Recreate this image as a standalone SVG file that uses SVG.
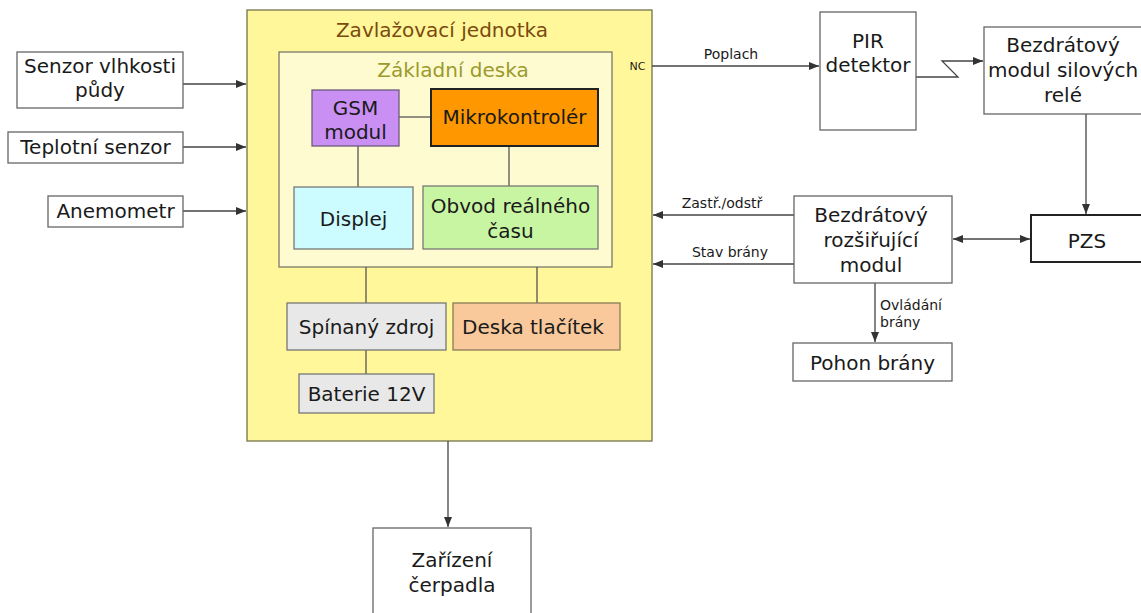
<svg xmlns="http://www.w3.org/2000/svg" width="1141" height="613" viewBox="0 0 1141 613">
<defs>
<marker id="ah" viewBox="0 0 10 8" refX="10" refY="4" markerWidth="10" markerHeight="8" markerUnits="userSpaceOnUse" orient="auto-start-reverse">
<path d="M0,0 L10,4 L0,8 z" fill="#333"/>
</marker>
<style>
text{font-family:"DejaVu Sans","Liberation Sans",sans-serif;fill:#1a1a1a}
.n{font-size:20px;text-anchor:middle}
.s{font-size:14px;text-anchor:middle}
.box{fill:#fff;stroke:#666;stroke-width:1.3}
.ln{stroke:#555;stroke-width:1.3;fill:none}
.ar{stroke:#444;stroke-width:1.3;fill:none;marker-end:url(#ah)}
</style>
</defs>
<rect width="1141" height="613" fill="#fff"/>

<g id="unit">
<rect x="247" y="10" width="405" height="431" fill="#fff799" stroke="#7d7d55" stroke-width="1.4"/>
<text x="442" y="37" class="n" style="fill:#7a4a10">Zavlažovací jednotka</text>
</g>
<g id="board">
<rect x="279" y="52" width="333" height="215" fill="#fffbd0" stroke="#7a7a6a" stroke-width="1.3"/>
<text x="453" y="77" class="n" style="fill:#9a9a2e">Základní deska</text>
</g>

<g id="connectors">
<line class="ln" x1="399" y1="117" x2="431" y2="117"/>
<line class="ln" x1="358" y1="146" x2="358" y2="187"/>
<line class="ln" x1="509" y1="146" x2="509" y2="186"/>
<line class="ln" x1="366" y1="267" x2="366" y2="303"/>
<line class="ln" x1="537" y1="267" x2="537" y2="303"/>
<line class="ln" x1="366" y1="350" x2="366" y2="374"/>
<line class="ar" x1="183" y1="84" x2="246" y2="84"/>
<line class="ar" x1="183" y1="147" x2="246" y2="147"/>
<line class="ar" x1="183" y1="211" x2="246" y2="211"/>
<line class="ar" x1="652" y1="66" x2="819" y2="66"/>
<polyline class="ar" points="916,77 958,77 942,61 983,61"/>
<line class="ar" x1="1086" y1="114" x2="1086" y2="214"/>
<line class="ar" x1="794" y1="215" x2="653" y2="215"/>
<line class="ar" x1="794" y1="264" x2="653" y2="264"/>
<line class="ar" x1="953" y1="239" x2="1030" y2="239" style="marker-start:url(#ah)"/>
<line class="ar" x1="875" y1="283" x2="875" y2="342"/>
<line class="ar" x1="448" y1="441" x2="448" y2="527"/>
<text x="637.5" y="70" style="font-size:11px;text-anchor:middle">NC</text>
<text x="731" y="59" class="s">Poplach</text>
<text x="722" y="208" class="s">Zastř./odstř</text>
<text x="730" y="257" class="s">Stav brány</text>
<text x="880" y="310" style="font-size:14px">Ovládání</text>
<text x="880" y="327" style="font-size:14px">brány</text>
</g>

<g id="soil"><rect class="box" x="17" y="52" width="166" height="56"/>
<text x="100" y="73" class="n">Senzor vlhkosti</text><text x="100" y="97" class="n">půdy</text></g>
<g id="temp"><rect class="box" x="8" y="132" width="175" height="31"/>
<text x="95.5" y="154" class="n">Teplotní senzor</text></g>
<g id="anemo"><rect class="box" x="48" y="196" width="135" height="31"/>
<text x="115.5" y="218" class="n">Anemometr</text></g>

<g id="gsm"><rect x="312" y="90" width="87" height="56" fill="#c98ff3" stroke="#6a5a7a" stroke-width="1.3"/>
<text x="355.5" y="115" class="n">GSM</text><text x="355.5" y="139" class="n">modul</text></g>
<g id="mcu"><rect x="431" y="89" width="167" height="57" fill="#ff9800" stroke="#222" stroke-width="2"/>
<text x="514.5" y="124" class="n">Mikrokontrolér</text></g>
<g id="display"><rect x="294" y="187" width="119" height="62" fill="#ccfcff" stroke="#777" stroke-width="1.3"/>
<text x="353.5" y="226" class="n">Displej</text></g>
<g id="rtc"><rect x="423" y="186" width="175" height="63" fill="#c8f5a2" stroke="#777" stroke-width="1.3"/>
<text x="510.5" y="213" class="n">Obvod reálného</text><text x="510.5" y="238" class="n">času</text></g>
<g id="psu"><rect x="287" y="303" width="159" height="47" fill="#e8e8e8" stroke="#777" stroke-width="1.3"/>
<text x="366.5" y="334" class="n">Spínaný zdroj</text></g>
<g id="buttons"><rect x="453" y="303" width="167" height="47" fill="#f9c89b" stroke="#8a7a5a" stroke-width="1.3"/>
<text x="533" y="334" class="n">Deska tlačítek</text></g>
<g id="battery"><rect x="299" y="374" width="135" height="39" fill="#e8e8e8" stroke="#777" stroke-width="1.3"/>
<text x="366.5" y="401" class="n">Baterie 12V</text></g>

<g id="pir"><rect class="box" x="820" y="12" width="96" height="118"/>
<text x="868" y="48" class="n">PIR</text><text x="868" y="72" class="n">detektor</text></g>
<g id="relay"><rect class="box" x="984" y="27" width="160" height="87"/>
<text x="1063" y="52" class="n">Bezdrátový</text><text x="1063" y="77" class="n">modul silových</text><text x="1063" y="102" class="n">relé</text></g>
<g id="pzs"><rect x="1031" y="215" width="115" height="47" fill="#fff" stroke="#222" stroke-width="2"/>
<text x="1087" y="248" class="n">PZS</text></g>
<g id="ext"><rect class="box" x="794" y="196" width="158" height="87"/>
<text x="871" y="222" class="n">Bezdrátový</text><text x="871" y="247" class="n">rozšiřující</text><text x="871" y="272" class="n">modul</text></g>
<g id="gate"><rect class="box" x="793" y="343" width="159" height="38"/>
<text x="872.5" y="370" class="n">Pohon brány</text></g>
<g id="pump"><rect class="box" x="373" y="528" width="158" height="95"/>
<text x="452" y="567" class="n">Zařízení</text><text x="452" y="592" class="n">čerpadla</text></g>
</svg>
